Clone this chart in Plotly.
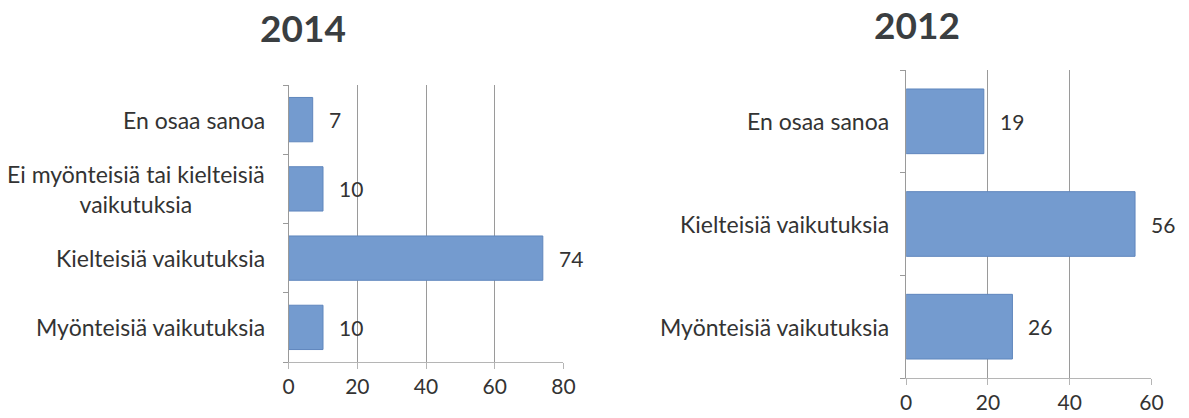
import plotly.graph_objects as go

# ---- data ----
cats_2014 = ["Myönteisiä vaikutuksia", "Kielteisiä vaikutuksia",
             "Ei myönteisiä tai kielteisiä<br>vaikutuksia", "En osaa sanoa"]
vals_2014 = [10, 74, 10, 7]
cats_2012 = ["Myönteisiä vaikutuksia", "Kielteisiä vaikutuksia", "En osaa sanoa"]
vals_2012 = [26, 56, 19]
ticks_2014 = [0, 20, 40, 60, 80]
ticks_2012 = [0, 20, 40, 60]
title_2014 = "2014"
title_2012 = "2012"

FONT = "Lato"
TXT = "#333333"
BAR = "#749bcf"
BAR_LINE = "#5f86bd"
GRID = "#9a9a9a"
AXLINE = "#b5b5b5"
W, H = 1189, 418

fig = go.Figure()
fig.add_trace(go.Bar(x=vals_2014, y=cats_2014, orientation="h", width=0.64,
                     marker=dict(color=BAR, line=dict(color=BAR_LINE, width=1)),
                     xaxis="x", yaxis="y", showlegend=False, hoverinfo="skip"))
fig.add_trace(go.Bar(x=vals_2012, y=cats_2012, orientation="h", width=0.63,
                     marker=dict(color=BAR, line=dict(color=BAR_LINE, width=1)),
                     xaxis="x2", yaxis="y2", showlegend=False, hoverinfo="skip"))

def px_x(p):
    return p / W

def px_y(p):
    return 1 - p / H

xcommon = dict(showgrid=True, gridcolor=GRID, gridwidth=1, showline=True,
               linecolor=AXLINE, linewidth=1, ticks="outside", ticklen=6,
               tickcolor=AXLINE, zeroline=False, fixedrange=True,
               tickfont=dict(family=FONT, size=21, color=TXT))
ycommon = dict(showline=True, linecolor=GRID, linewidth=1, ticks="outside",
               ticklen=5, tickcolor=GRID, tickson="boundaries",
               showticklabels=False, showgrid=False, fixedrange=True)

fig.update_layout(
    width=W, height=H, margin=dict(l=0, r=0, t=0, b=0),
    paper_bgcolor="white", plot_bgcolor="white",
    xaxis=dict(domain=[px_x(287), px_x(566)], range=[0, 80], tickvals=ticks_2014,
               anchor="y", **xcommon),
    yaxis=dict(domain=[px_y(362), px_y(85)], anchor="x",
               categoryorder="array", categoryarray=cats_2014, **ycommon),
    xaxis2=dict(domain=[px_x(914), px_x(1163)], range=[0, 60], tickvals=ticks_2012,
                anchor="y2", **xcommon),
    yaxis2=dict(domain=[px_y(378), px_y(70)], anchor="x2",
                categoryorder="array", categoryarray=cats_2012, **ycommon),
    bargap=0.36,
)

annotations = []
# titles
annotations.append(dict(text="<b>" + title_2014 + "</b>", xref="paper", yref="paper",
                        x=px_x(302), y=px_y(27), xanchor="center", yanchor="middle",
                        showarrow=False, font=dict(family=FONT, size=37, color="#3a3e41")))
annotations.append(dict(text="<b>" + title_2012 + "</b>", xref="paper", yref="paper",
                        x=px_x(925), y=1, xanchor="center", yanchor="top",
                        showarrow=False, font=dict(family=FONT, size=37, color="#3a3e41")))

# category labels (centered multi-line, right anchored at the axis)
for cats, xr, yr, sh in [(cats_2014, "x", "y", -22), (cats_2012, "x2", "y2", -15)]:
    for c in cats:
        annotations.append(dict(text=c, x=0, y=c, xref=xr, yref=yr, xanchor="right",
                                yanchor="middle", xshift=sh, align="center",
                                showarrow=False,
                                font=dict(family=FONT, size=23, color=TXT)))

# value labels
for cats, vals, xr, yr in [(cats_2014, vals_2014, "x", "y"), (cats_2012, vals_2012, "x2", "y2")]:
    for c, v in zip(cats, vals):
        annotations.append(dict(text=str(v), x=v, y=c, xref=xr, yref=yr, xanchor="left",
                                yanchor="middle", xshift=14, showarrow=False,
                                font=dict(family=FONT, size=21, color=TXT)))

fig.update_layout(annotations=annotations)
fig.write_html("out.html", config={"displayModeBar": False},
               post_script="document.body.style.margin='0';document.body.style.overflow='hidden';")
